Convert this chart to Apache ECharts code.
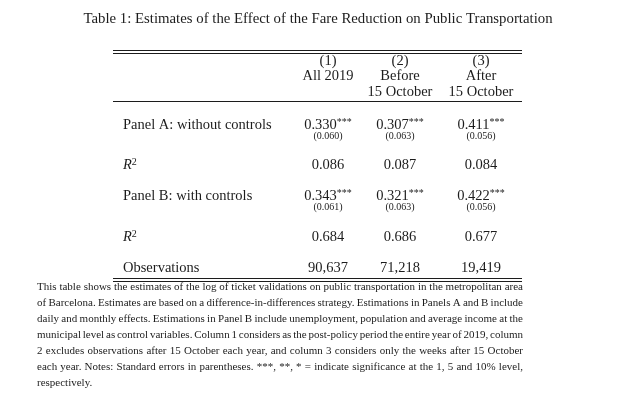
<!DOCTYPE html>
<html><head><meta charset="utf-8">
<script src="https://cdn.jsdelivr.net/npm/echarts@6/dist/echarts.min.js"></script>
<style>html,body{margin:0;padding:0;background:#fff}#c{width:634px;height:404px}</style>
</head><body><div id="c"></div>
<script>
const title = 'Table 1: Estimates of the Effect of the Fare Reduction on Public Transportation';
const colNums = ['(1)', '(2)', '(3)'];
const colHead1 = ['All 2019', 'Before', 'After'];
const colHead2 = ['', '15 October', '15 October'];
const rowLabels = ['Panel A: without controls', 'R2', 'Panel B: with controls', 'R2', 'Observations'];
const coefA = ['0.330', '0.307', '0.411'];
const seA = ['0.060', '0.063', '0.056'];
const starsA = ['***', '***', '***'];
const r2A = ['0.086', '0.087', '0.084'];
const coefB = ['0.343', '0.321', '0.422'];
const seB = ['0.061', '0.063', '0.056'];
const starsB = ['***', '***', '***'];
const r2B = ['0.684', '0.686', '0.677'];
const obs = ['90,637', '71,218', '19,419'];
const noteLines = [
  'This table shows the estimates of the log of ticket validations on public transportation in the metropolitan area',
  'of Barcelona. Estimates are based on a difference-in-differences strategy. Estimations in Panels A and B include',
  'daily and monthly effects. Estimations in Panel B include unemployment, population and average income at the',
  'municipal level as control variables. Column 1 considers as the post-policy period the entire year of 2019, column',
  '2 excludes observations after 15 October each year, and column 3 considers only the weeks after 15 October',
  'each year. Notes: Standard errors in parentheses. ***, **, * = indicate significance at the 1, 5 and 10% level,',
  'respectively.'
];

const FF = '"Liberation Serif", "DejaVu Serif", serif';
const INK = '#1c1c1c';
const BODY = 14.5;
const colX = [328, 400, 481];
const labelX = 123;
const els = [];
function txt(x, y, text, size, align, extra) {
  els.push({type: 'text', silent: true, style: Object.assign({
    x: x, y: y, text: text, fontSize: size, fontFamily: FF, fill: INK,
    align: align || 'center', verticalAlign: 'middle'}, extra || {})});
}
function hline(y, x1, x2) {
  els.push({type: 'line', silent: true, shape: {x1: x1, y1: y, x2: x2, y2: y},
    style: {stroke: INK, lineWidth: 1}});
}
const rich = {
  n: {fontSize: BODY, fontFamily: FF, fill: INK, lineHeight: 16},
  s: {fontSize: 10, fontFamily: FF, fill: INK, verticalAlign: 'top', lineHeight: 10},
  i: {fontSize: BODY, fontFamily: FF, fill: INK, fontStyle: 'italic', lineHeight: 16},
  p: {fontSize: 10, fontFamily: FF, fill: INK, verticalAlign: 'top', lineHeight: 10}
};

// title
txt(318, 19, title, 14.8);
// rules
hline(50.5, 113, 522); hline(53.5, 113, 522);
hline(101.5, 113, 522);
hline(278.5, 113, 522); hline(281.5, 113, 522);
// header
colNums.forEach((t, k) => txt(colX[k], 61, t, BODY));
colHead1.forEach((t, k) => txt(colX[k], 76.5, t, BODY));
colHead2.forEach((t, k) => { if (t) txt(colX[k], 92, t, BODY); });

// rows
const rowY = [125, 165, 196, 237, 268];
rowLabels.forEach((t, r) => {
  if (t === 'R2') txt(labelX, rowY[r], '{i|R}{p|2}', BODY, 'left', {rich: rich});
  else txt(labelX, rowY[r], t, BODY, 'left');
});
function coefRow(coef, stars, se, y) {
  coef.forEach((c, k) => {
    txt(colX[k], y, '{n|' + c + '}{s|' + stars[k] + '}', BODY, 'center', {rich: rich});
    txt(colX[k], y + 11.5, '(' + se[k] + ')', 10);
  });
}
coefRow(coefA, starsA, seA, rowY[0]);
r2A.forEach((v, k) => txt(colX[k], rowY[1], v, BODY));
coefRow(coefB, starsB, seB, rowY[2]);
r2B.forEach((v, k) => txt(colX[k], rowY[3], v, BODY));
obs.forEach((v, k) => txt(colX[k], rowY[4], v, BODY));

// notes, justified
const noteSize = 11;
const noteL = 37, noteR = 523;
const ctx = document.createElement('canvas').getContext('2d');
ctx.font = noteSize + 'px ' + FF;
noteLines.forEach((line, li) => {
  const y = 287 + li * 16;
  const words = line.split(' ');
  const last = li === noteLines.length - 1;
  if (last) { txt(noteL, y, line, noteSize, 'left'); return; }
  const widths = words.map(w => ctx.measureText(w).width);
  const total = widths.reduce((a, b) => a + b, 0);
  const gap = (noteR - noteL - total) / (words.length - 1);
  let x = noteL;
  words.forEach((w, k) => { txt(x, y, w, noteSize, 'left'); x += widths[k] + gap; });
});

const chart = echarts.init(document.getElementById('c'), null, {renderer: 'canvas'});
chart.setOption({animation: false, backgroundColor: '#fff', graphic: {elements: els}});
</script></body></html>
